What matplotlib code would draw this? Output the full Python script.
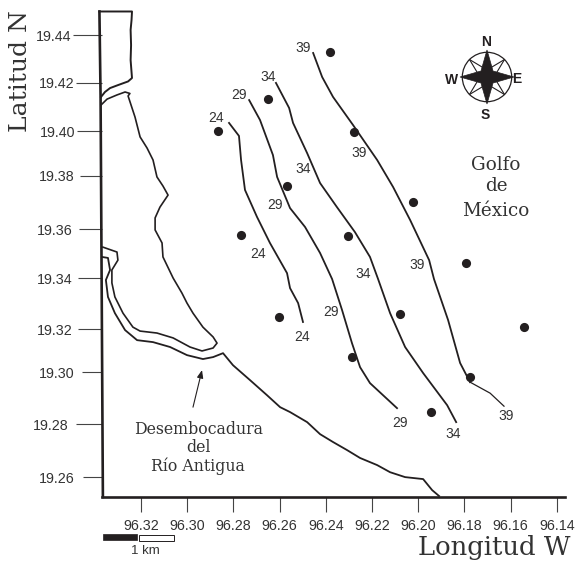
import numpy as np
import matplotlib
matplotlib.use('Agg')
import matplotlib.pyplot as plt
from matplotlib.patches import Rectangle, Polygon, Circle

plt.rcParams['font.family'] = 'Liberation Sans'
plt.rcParams['font.size'] = 10.3

DARK = '#231f20'
TEXT = '#333333'
SERIF = 'DejaVu Serif'
PX = 0.72  # one pixel in points at dpi 100

# axis ticks (y ticks are a bit uneven on the original map)
x_ticks = [96.32, 96.30, 96.28, 96.26, 96.24, 96.22, 96.20, 96.18, 96.16, 96.14]
x_labels = ['96.32', '96.30', '96.28', '96.26', '96.24', '96.22', '96.20', '96.18', '96.16', '96.14']
y_ticks = [19.44, 19.4207, 19.4009, 19.3828, 19.3609, 19.3410, 19.3202, 19.3028, 19.2815, 19.26]
y_labels = ['19.44', '19.42', '19.40', '19.38', '19.36', '19.34', '19.32', '19.30', '19.28', '19.26']
y_tick_len = [29.5, 26.5, 25.5, 22.5, 23.5, 24.5, 24.5, 20.5, 26.5, 19.5]
y_tick_pad = [1, 1, 1, 4, 5, 4, 4, 6, 7, 7]

# coastline
box_lon = [96.3380, 96.3239, 96.3241, 96.3245, 96.3243, 96.3245, 96.3241, 96.3239,
           96.3256, 96.3300, 96.3334, 96.3356, 96.3373]
box_lat = [19.4497, 19.4497, 19.4462, 19.4422, 19.4360, 19.4299, 19.4250, 19.4226,
           19.4212, 19.4197, 19.4185, 19.4169, 19.4149]
left_lon = [96.3380, 96.3375, 96.3365]
left_lat = [19.4497, 19.4149, 19.2519]
inner_lon = [96.3373, 96.3347, 96.3304, 96.3269, 96.3248, 96.3256, 96.3226, 96.3204, 96.3174,
             96.3148, 96.3131, 96.3105, 96.3083, 96.3118, 96.3139, 96.3139, 96.3109, 96.3105,
             96.3061, 96.3023, 96.3001, 96.2975, 96.2932, 96.2888, 96.2871, 96.2888, 96.2936,
             96.2988, 96.3061, 96.3131, 96.3204, 96.3235, 96.3278, 96.3313, 96.3326, 96.3326,
             96.3300, 96.3304, 96.3365]
inner_lat = [19.4116, 19.4140, 19.4157, 19.4169, 19.4163, 19.4153, 19.4067, 19.3986, 19.3941,
             19.3892, 19.3823, 19.3786, 19.3749, 19.3700, 19.3656, 19.3607, 19.3554, 19.3497,
             19.3411, 19.3350, 19.3309, 19.3268, 19.3211, 19.3171, 19.3146, 19.3126, 19.3114,
             19.3130, 19.3167, 19.3187, 19.3195, 19.3211, 19.3268, 19.3334, 19.3391, 19.3444,
             19.3484, 19.3517, 19.3537]
outer_lon = [96.3369, 96.3343, 96.3334, 96.3352, 96.3343, 96.3313, 96.3269, 96.3217, 96.3148,
             96.3074, 96.3001, 96.2932, 96.2888, 96.2845, 96.2802, 96.2728, 96.2655, 96.2598,
             96.2555, 96.2481, 96.2425, 96.2369, 96.2308, 96.2252, 96.2178, 96.2122, 96.2057,
             96.1979, 96.1940, 96.1910]
outer_lat = [19.3497, 19.3493, 19.3444, 19.3403, 19.3334, 19.3268, 19.3199, 19.3158, 19.3150,
             19.3130, 19.3097, 19.3081, 19.3089, 19.3105, 19.3056, 19.2995, 19.2934, 19.2885,
             19.2865, 19.2824, 19.2775, 19.2743, 19.2710, 19.2678, 19.2649, 19.2620, 19.2600,
             19.2592, 19.2547, 19.2523]

# isolines
c24_lon = [96.2819, 96.2776, 96.2767, 96.2750, 96.2698, 96.2642, 96.2568, 96.2555, 96.2520, 96.2499]
c24_lat = [19.4043, 19.3990, 19.3892, 19.3770, 19.3660, 19.3554, 19.3431, 19.3370, 19.3309, 19.3232]
c29_lon = [96.2732, 96.2685, 96.2629, 96.2611, 96.2555, 96.2490, 96.2425, 96.2373, 96.2330,
           96.2287, 96.2252, 96.2209, 96.2092]
c29_lat = [19.4136, 19.4055, 19.3912, 19.3823, 19.3696, 19.3619, 19.3513, 19.3407, 19.3281,
           19.3146, 19.3048, 19.2983, 19.2881]
c34_lon = [96.2616, 96.2559, 96.2542, 96.2481, 96.2425, 96.2352, 96.2274, 96.2209, 96.2174,
           96.2122, 96.2057, 96.1979, 96.1875, 96.1836]
c34_lat = [19.4206, 19.4104, 19.4043, 19.3920, 19.3798, 19.3700, 19.3598, 19.3497, 19.3407,
           19.3268, 19.3130, 19.3024, 19.2893, 19.2824]
c39_lon = [96.2455, 96.2416, 96.2369, 96.2282, 96.2178, 96.2109, 96.2035, 96.1953, 96.1932,
           96.1871, 96.1819, 96.1776]
c39_lat = [19.4328, 19.4230, 19.4149, 19.4034, 19.3892, 19.3782, 19.3647, 19.3484, 19.3407,
           19.3240, 19.3065, 19.2987]
tail_lon = [96.1776, 96.1689, 96.1629]
tail_lat = [19.2987, 19.2942, 19.2889]

# sampling stations
st_lon = [96.2382, 96.2278, 96.2023, 96.1793, 96.2304, 96.2568, 96.2650, 96.2867,
          96.2767, 96.2603, 96.2079, 96.1542, 96.2287, 96.1776, 96.1945]
st_lat = [19.4332, 19.4006, 19.3721, 19.3472, 19.3582, 19.3786, 19.4140, 19.4010,
          19.3586, 19.3252, 19.3264, 19.3211, 19.3089, 19.3008, 19.2865]

# isoline labels
lab_text = ['24', '29', '34', '39', '39', '34', '29', '24', '34', '39', '29', '24', '29', '34', '39']
lab_lon = [96.2875, 96.2776, 96.2650, 96.2499, 96.2256, 96.2499, 96.2620, 96.2694,
           96.2239, 96.2005, 96.2377, 96.2503, 96.2079, 96.1849, 96.1620]
lab_lat = [19.4063, 19.4157, 19.4230, 19.4348, 19.3920, 19.3855, 19.3708, 19.3509,
           19.3427, 19.3464, 19.3272, 19.3171, 19.2820, 19.2775, 19.2849]


def draw_compass(fig):
    cx, cy, half = 487, 77, 32
    ac = fig.add_axes([(cx - half) / 575, (563 - cy - half) / 563, 2 * half / 575, 2 * half / 563])
    ac.set_xlim(-half, half)
    ac.set_ylim(-half, half)
    ac.axis('off')
    ac.add_patch(Circle((0, 0), 24.7, fill=False, ec=DARK, lw=0.9))
    # thin diagonal points
    for a in np.deg2rad([45, 135, 225, 315]):
        for s in [-1, 1]:
            b = a + s * np.deg2rad(28)
            ac.plot([24.7 * np.cos(a), 9 * np.cos(b)], [24.7 * np.sin(a), 9 * np.sin(b)], color=DARK, lw=0.8)
    # black star
    ang = np.deg2rad(np.arange(0, 360, 45))
    r = np.where(np.arange(8) % 2 == 0, 27, 8.5)
    ac.add_patch(Polygon(np.c_[r * np.cos(ang), r * np.sin(ang)], closed=True, fc=DARK, ec=DARK, lw=0.5, zorder=3))
    ax_text = dict(family='Liberation Sans', weight='bold', fontsize=10, color=DARK, ha='center', va='center')
    fig.text(486 / 575, 1 - 42 / 563, 'N', **ax_text)
    fig.text(452 / 575, 1 - 80 / 563, 'W', **ax_text)
    fig.text(517 / 575, 1 - 79 / 563, 'E', **ax_text)
    fig.text(485 / 575, 1 - 115 / 563, 'S', **ax_text)


def main():
    fig = plt.figure(figsize=(5.75, 5.63), dpi=100)
    ax = fig.add_axes([101.5 / 575, 66 / 563, 463.5 / 575, 486 / 563])
    ax.set_xlim(96.3371, 96.1365)
    ax.set_ylim(19.2519, 19.4499)

    for s in ['top', 'right', 'left']:
        ax.spines[s].set_visible(False)
    ax.spines['bottom'].set_linewidth(1.9)
    ax.spines['bottom'].set_color(DARK)
    ax.spines['bottom'].set_bounds(96.3371, 96.1365)

    ax.set_xticks(x_ticks, x_labels, color=TEXT, fontsize=10.3)
    ax.set_yticks(y_ticks, y_labels, color=TEXT, fontsize=10.3)
    ax.tick_params(axis='x', length=15 * PX, width=0.8, color='#444444', pad=7 * PX)
    ax.tick_params(axis='y', width=0.8, color='#444444')
    for t, ln, pd in zip(ax.yaxis.get_major_ticks(), y_tick_len, y_tick_pad):
        t._apply_params(size=ln * PX, pad=pd * PX)

    ax.set_xlabel('Longitud W', family=SERIF, fontsize=18.6, color=TEXT, ha='right')
    ax.xaxis.set_label_coords(1.0108, -0.103)
    ax.xaxis.label.set_va('center')
    ax.set_ylabel('Latitud N', family=SERIF, fontsize=18, color=TEXT, va='center')
    ax.yaxis.set_label_coords(-0.1758, 0.8755)

    # coast
    ax.plot(box_lon, box_lat, color=DARK, lw=1.4, clip_on=False)
    ax.plot(left_lon, left_lat, color=DARK, lw=1.9, clip_on=False)
    ax.plot(inner_lon, inner_lat, color=DARK, lw=1.2, clip_on=False)
    ax.plot(outer_lon, outer_lat, color=DARK, lw=1.3, clip_on=False)

    # isolines
    for lon, lat in [(c24_lon, c24_lat), (c29_lon, c29_lat), (c34_lon, c34_lat), (c39_lon, c39_lat)]:
        ax.plot(lon, lat, color=DARK, lw=1.3)
    ax.plot(tail_lon, tail_lat, color=DARK, lw=0.9)

    ax.plot(st_lon, st_lat, 'o', color=DARK, ms=6.6, mew=0)

    for s, lon, lat in zip(lab_text, lab_lon, lab_lat):
        ax.text(lon, lat, s, fontsize=10, color=TEXT, ha='center', va='center')

    # place names
    for s, lat in zip(['Desembocadura', 'del', 'Río Antigua'], [19.2792, 19.2722, 19.2645]):
        ax.text(96.2953, lat, s, family=SERIF, fontsize=11.3, color=TEXT, ha='center', va='center')
    for s, lat in zip(['Golfo', 'de', 'México'], [19.3871, 19.3786, 19.3684]):
        ax.text(96.1663, lat, s, family=SERIF, fontsize=13.2, color=TEXT, ha='center', va='center')

    ax.annotate('', xy=(96.2936, 19.3036), xytext=(96.2975, 19.2885),
                arrowprops=dict(arrowstyle='-|>,head_length=0.45,head_width=0.18', color=DARK, lw=0.8,
                                shrinkA=0, shrinkB=0))

    # scale bar
    ax.add_patch(Rectangle((96.3365, 19.2343), -0.0148, 0.0025, fc=DARK, ec=DARK, lw=0.5, clip_on=False))
    ax.add_patch(Rectangle((96.3209, 19.2339), -0.0152, 0.0025, fc='white', ec=DARK, lw=0.7, clip_on=False))
    ax.text(96.3183, 19.2299, '1 km', fontsize=9.5, color=TEXT, ha='center', va='center', clip_on=False)

    draw_compass(fig)
    fig.savefig('out.png', dpi=100)


if __name__ == '__main__':
    main()
